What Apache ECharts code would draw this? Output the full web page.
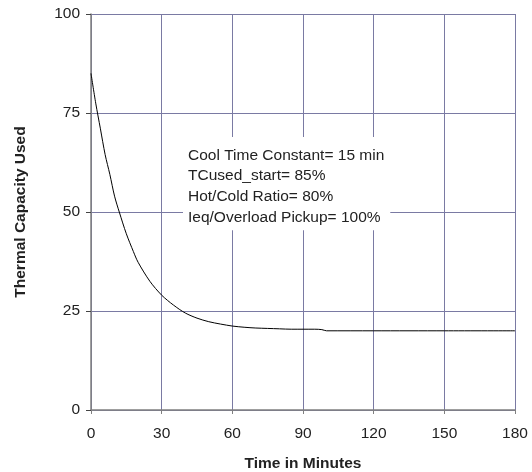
<!DOCTYPE html>
<html>
<head>
<meta charset="utf-8">
<script src="https://cdn.jsdelivr.net/npm/echarts@6/dist/echarts.min.js"></script>
<style>
  html, body { margin: 0; padding: 0; background: #fff; }
  #chartLineBox { width: 532px; height: 472px; }
</style>
</head>
<body>
<div id="chartLineBox"></div>
<script>
  // data
  var minutes = [0, 2, 4, 6, 8, 10, 12, 15, 18, 20, 25, 30, 35, 40, 45, 50, 55, 60, 65, 70, 75, 80, 85, 90, 95, 98, 100, 120, 150, 180];
  var tcUsed  = [85, 77.5, 71, 64.5, 59.5, 54, 50, 44.5, 40, 37.3, 32.5, 29, 26.5, 24.5, 23.2, 22.3, 21.7, 21.2, 20.9, 20.7, 20.6, 20.5, 20.4, 20.4, 20.4, 20.3, 20, 20, 20, 20];
  var xTicks = [0, 30, 60, 90, 120, 150, 180];
  var yTicks = [0, 25, 50, 75, 100];
  var notes = [
    'Cool Time Constant= 15 min',
    'TCused_start= 85%',
    'Hot/Cold Ratio= 80%',
    'Ieq/Overload Pickup= 100%'
  ];

  var gridColor = '#7a7aa3';
  var axisColor = '#808080';
  var font = 'Liberation Sans, Arial, sans-serif';

  var chartLine = echarts.init(document.getElementById('chartLineBox'));

  var points = minutes.map(function (t, i) { return [t, tcUsed[i]]; });

  var option = {
    animation: false,
    grid: { left: 91, right: 17, top: 14, bottom: 62, outerBoundsMode: 'none', containLabel: false },
    xAxis: {
      type: 'value',
      min: xTicks[0],
      max: xTicks[xTicks.length - 1],
      interval: 30,
      name: 'Time in Minutes',
      nameLocation: 'middle',
      nameGap: 46,
      nameTextStyle: { fontFamily: font, fontSize: 15.5, fontWeight: 'bold', color: '#222' },
      axisLine: { lineStyle: { color: axisColor, width: 1.5 } },
      axisTick: { length: 4, lineStyle: { color: axisColor } },
      axisLabel: { fontFamily: font, fontSize: 15.5, color: '#222', margin: 16 },
      splitLine: { show: true, lineStyle: { color: gridColor, width: 1 } }
    },
    yAxis: {
      type: 'value',
      min: yTicks[0],
      max: yTicks[yTicks.length - 1],
      interval: 25,
      name: 'Thermal Capacity Used',
      nameLocation: 'middle',
      nameGap: 62,
      nameTextStyle: { fontFamily: font, fontSize: 15.5, fontWeight: 'bold', color: '#222' },
      axisLine: { show: true, lineStyle: { color: axisColor, width: 1.5 } },
      axisTick: { show: true, length: 5, lineStyle: { color: '#444' } },
      axisLabel: { fontFamily: font, fontSize: 15.5, color: '#222', margin: 11 },
      splitLine: { show: true, lineStyle: { color: gridColor, width: 1 } }
    },
    graphic: [{
      type: 'text',
      left: 183,
      top: 137,
      z: 100,
      style: {
        text: notes.join('\n'),
        fontFamily: font,
        fontSize: 15.5,
        lineHeight: 20.8,
        fill: '#222',
        backgroundColor: '#fff',
        padding: [8, 6, 2, 5]
      }
    }],
    series: [{
      name: 'TCused',
      type: 'line',
      data: points,
      smooth: 0.3,
      showSymbol: false,
      lineStyle: { color: '#000', width: 1 }
    }]
  };

  chartLine.setOption(option);
  window.onresize = chartLine.resize;
</script>
</body>
</html>
